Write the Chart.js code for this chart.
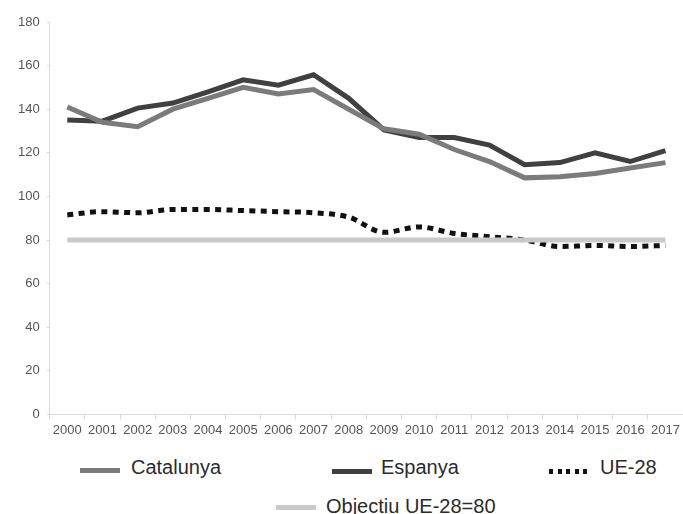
<!DOCTYPE html>
<html>
<head>
<meta charset="utf-8">
<script src="https://cdn.jsdelivr.net/npm/chart.js@4.4.1/dist/chart.umd.min.js"></script>
<style>
    html, body { margin: 0; padding: 0; background: #fff; }
    #wrap { position: relative; width: 683px; height: 514px; font-family: "Liberation Sans", Arial, sans-serif; }
    #chartBox { position: absolute; left: 0; top: 0; width: 683px; height: 445px; }
    .lg-item { position: absolute; font-size: 20px; color: #2b2b2b; line-height: 24px; white-space: nowrap; }
    .lg-swatch { position: absolute; height: 5px; }
</style>
</head>
<body>
<div id="wrap">
    <div id="chartBox"><canvas id="chart"></canvas></div>
    <div id="legend"></div>
</div>
<script>
// 数据
const years = ['2000', '2001', '2002', '2003', '2004', '2005', '2006', '2007', '2008',
    '2009', '2010', '2011', '2012', '2013', '2014', '2015', '2016', '2017'];
const catalunya = [141, 134, 132, 140, 145, 150, 147, 149, 140, 131, 128.5, 121.5, 116, 108.5, 109, 110.5, 113, 115.5];
const espanya = [135, 134.5, 140.5, 142.8, 148, 153.5, 151, 155.8, 145, 130.5, 127, 127, 123.5, 114.5, 115.5, 120, 116, 121];
const ue28 = [91.5, 93, 92.5, 94, 94, 93.5, 93, 92.5, 90.5, 83.5, 86, 83, 81.5, 80, 77, 77.5, 77, 77.5];
const objectiu = years.map(() => 80);
const yTicks = [0, 20, 40, 60, 80, 100, 120, 140, 160, 180];

const seriesNames = ['Catalunya', 'Espanya', 'UE-28', 'Objectiu UE-28=80'];

const ctx = document.getElementById('chart');
const chart = new Chart(ctx, {
    type: 'line',
    data: {
        labels: years,
        datasets: [
            { label: seriesNames[3], data: objectiu, borderColor: '#c9c9c9', borderWidth: 5, pointRadius: 0, tension: 0 },
            { label: seriesNames[2], data: ue28, borderColor: '#111111', borderWidth: 5, borderDash: [6, 5.4], borderCapStyle: 'butt', pointRadius: 0, tension: 0.4, cubicInterpolationMode: 'monotone' },
            { label: seriesNames[0], data: catalunya, borderColor: '#7b7b7b', borderWidth: 5, pointRadius: 0, tension: 0 },
            { label: seriesNames[1], data: espanya, borderColor: '#404040', borderWidth: 5, pointRadius: 0, tension: 0 }
        ]
    },
    options: {
        responsive: true,
        maintainAspectRatio: false,
        animation: false,
        layout: { padding: { left: 11, right: 0, top: 22, bottom: 4 } },
        plugins: { legend: { display: false }, tooltip: { enabled: false } },
        scales: {
            x: {
                offset: true,
                grid: { display: true, drawOnChartArea: false, offset: true, tickLength: 5, color: '#d9d9d9' },
                border: { color: '#d9d9d9' },
                ticks: { color: '#555', font: { family: 'Liberation Sans', size: 13 }, maxRotation: 0, autoSkip: false, padding: 3 }
            },
            y: {
                min: 0,
                max: 180,
                afterBuildTicks: axis => { axis.ticks = yTicks.map(v => ({ value: v })); },
                grid: { display: true, drawOnChartArea: false, tickLength: 3, color: '#d9d9d9' },
                border: { color: '#d9d9d9' },
                ticks: { color: '#555', font: { family: 'Liberation Sans', size: 13 }, padding: 7 }
            }
        }
    }
});

// 图例 (HTML)
const legendItems = [
    { name: seriesNames[0], sx: 80, sy: 468, tx: 131, ty: 455, bg: '#7b7b7b' },
    { name: seriesNames[1], sx: 332, sy: 469, tx: 381, ty: 455, bg: '#404040' },
    { name: seriesNames[2], sx: 549, sy: 469, tx: 600, ty: 455, bg: 'repeating-linear-gradient(to right, #111 0px, #111 4px, rgba(255,255,255,0) 4px, rgba(255,255,255,0) 8.6px)' },
    { name: seriesNames[3], sx: 276, sy: 505, tx: 326, ty: 494, bg: '#c9c9c9' }
];
const legendEl = document.getElementById('legend');
legendEl.innerHTML = legendItems.map(it => `
    <div class="lg-swatch" style="left:${it.sx}px;top:${it.sy}px;width:40px;background:${it.bg}"></div>
    <div class="lg-item" style="left:${it.tx}px;top:${it.ty}px">${it.name}</div>
`).join('');
</script>
</body>
</html>
